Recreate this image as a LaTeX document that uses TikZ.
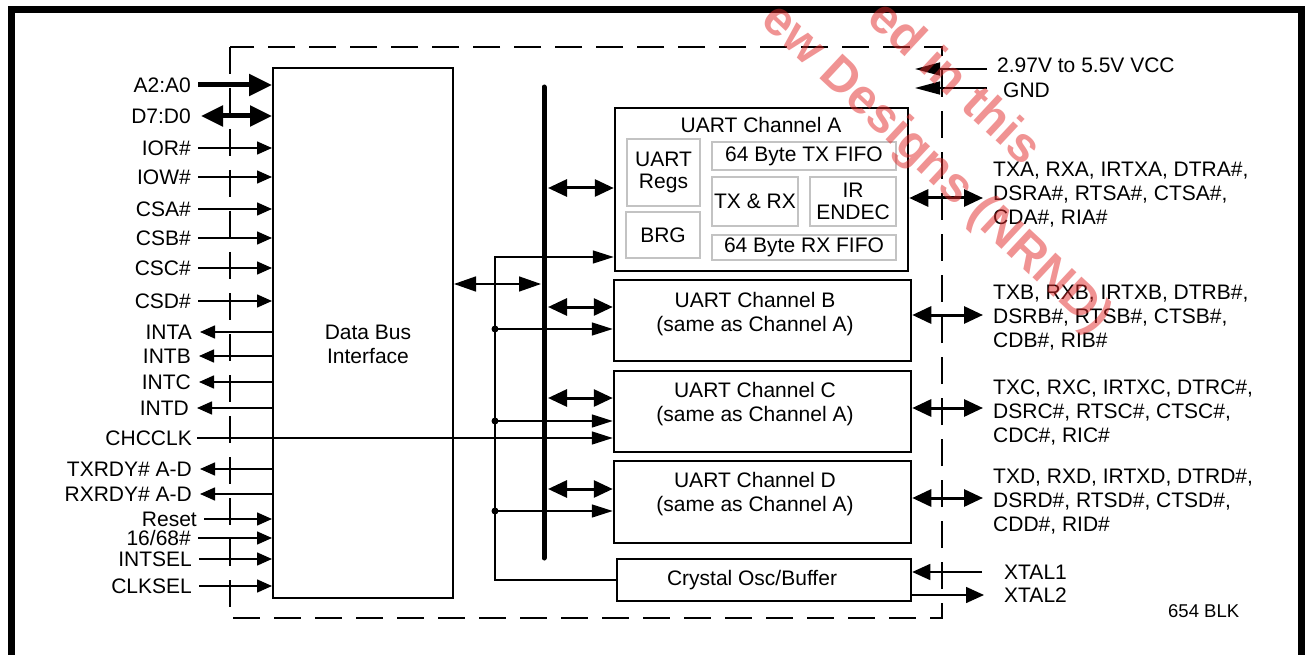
\documentclass[tikz,border=0pt]{standalone}
\usepackage{fontspec}
\setmainfont{Liberation Sans}
\usetikzlibrary{arrows.meta}
\definecolor{RegGrey}{RGB}{195, 195, 195}
\definecolor{WmRed}{RGB}{225, 40, 40}
\begin{document}
\begin{tikzpicture}[x=1pt, y=-1pt,
  lab/.style={font=\fontsize{21}{24.3}\selectfont, inner sep=0pt, text height=15pt, text depth=0pt},
  pinlab/.style={font=\fontsize{21}{24.3}\selectfont, inner sep=0pt, align=left, anchor=north west},
  boxtxt/.style={font=\fontsize{21}{24}\selectfont, align=center, inner sep=0pt},
  box/.style={draw, line width=2.5pt, inner sep=0pt},
  reg/.style={draw=RegGrey, line width=2pt, inner sep=0pt, font=\fontsize{21}{22}\selectfont, align=center},
  bound/.style={line width=2pt, dash pattern=on 27pt off 14pt},
  sigin/.style={-{Triangle[length=15pt, width=13pt]}, line width=1.5pt, shorten <=7pt},
  sigout/.style={-{Triangle[length=15pt, width=13pt]}, line width=1.5pt, shorten >=8pt},
  fatin/.style={-{Triangle[length=23pt, width=21pt]}, line width=5pt, shorten <=7pt},
  fatdbl/.style={{Triangle[length=22pt, width=20pt]}-{Triangle[length=22pt, width=20pt]}, line width=5pt, shorten <=10pt},
  busarr/.style={{Triangle[length=19pt, width=17pt]}-{Triangle[length=19pt, width=17pt]}, line width=3pt},
  dbarr/.style={{Triangle[length=22pt, width=15pt]}-{Triangle[length=22pt, width=15pt]}, line width=1.5pt},
  clk/.style={-{Triangle[length=21pt, width=13pt]}, line width=1.5pt},
  pwr/.style={-{Triangle[length=25pt, width=13pt]}, line width=1.5pt, shorten <=10pt},
  xin/.style={-{Triangle[length=18pt, width=16pt]}, line width=1.5pt, shorten <=22pt},
  xout/.style={-{Triangle[length=18pt, width=16pt]}, line width=1.5pt, shorten >=20pt},
  wm/.style={font=\fontsize{49}{60}\selectfont\bfseries, text=WmRed, text opacity=0.5, inner sep=0pt, anchor=base west, rotate=-43}]
\useasboundingbox (0,0) rectangle (1307,655);
\clip (0,0) rectangle (1307,655);
\draw[line width=7pt] (11,700) -- (11,10) -- (1301,10) -- (1301,700);
\draw[bound] (230,47) rectangle (942,618);
\node[box, line width=2pt, minimum width=180pt, minimum height=530pt, label={[boxtxt, xshift=5pt, yshift=-11pt]center:Data Bus\\Interface}] (dbi) at (363,333) {};
\node[box, minimum width=293pt, minimum height=163pt] (chA) at (761.5,189.5) {};
\node[boxtxt] (chAt) at (761,125) {UART Channel A};
\node[reg, minimum width=73pt, minimum height=67pt] (regs) at (663.5,172.5) {UART\\Regs};
\node[reg, minimum width=74pt, minimum height=46pt] (brg) at (663,235) {BRG};
\node[reg, minimum width=184pt, minimum height=28pt] (txf) at (804,156) {64 Byte TX FIFO};
\node[reg, minimum width=86pt, minimum height=49pt] (txrx) at (755,201.5) {TX \& RX};
\node[reg, minimum width=86pt, minimum height=49pt] (ir) at (853,201.5) {IR\\ENDEC};
\node[reg, minimum width=184pt, minimum height=25pt] (rxf) at (804,247.5) {64 Byte RX FIFO};
\node[box, minimum width=297pt, minimum height=81pt, label={[boxtxt, xshift=-7.5pt, yshift=6.5pt]center:UART Channel B\\(same as Channel A)}] (chB) at (762.5,320.5) {};
\node[box, minimum width=297pt, minimum height=81pt, label={[boxtxt, xshift=-7.5pt, yshift=7.5pt]center:UART Channel C\\(same as Channel A)}] (chC) at (762.5,411.5) {};
\node[box, minimum width=297pt, minimum height=82pt, label={[boxtxt, xshift=-7.5pt, yshift=7.5pt]center:UART Channel D\\(same as Channel A)}] (chD) at (762.5,502) {};
\node[box, minimum width=294pt, minimum height=42pt, label={[boxtxt, xshift=-12pt]center:Crystal Osc/Buffer}] (xtal) at (764,580) {};
\node[lab, anchor=east] (a20) at (191,85) {A2:A0};
\node[lab, anchor=east] (d70) at (191,116) {D7:D0};
\node[lab, anchor=east] (ior) at (191,148) {IOR\#};
\node[lab, anchor=east] (iow) at (191,177) {IOW\#};
\node[lab, anchor=east] (csa) at (191,209) {CSA\#};
\node[lab, anchor=east] (csb) at (191,238) {CSB\#};
\node[lab, anchor=east] (csc) at (191,268) {CSC\#};
\node[lab, anchor=east] (csd) at (191,301) {CSD\#};
\node[lab, anchor=east] (inta) at (192,332) {INTA};
\node[lab, anchor=east] (intb) at (191,356) {INTB};
\node[lab, anchor=east] (intc) at (191,382) {INTC};
\node[lab, anchor=east] (intd) at (189,408) {INTD};
\node[lab, anchor=east] (chcclk) at (192,438) {CHCCLK};
\node[lab, anchor=east] (txrdy) at (192,469) {TXRDY\# A-D};
\node[lab, anchor=east] (rxrdy) at (192,494) {RXRDY\# A-D};
\node[lab, anchor=east] (reset) at (197,519) {Reset};
\node[lab, anchor=east] (m68) at (191,538) {16/68\#};
\node[lab, anchor=east] (intsel) at (192,559) {INTSEL};
\node[lab, anchor=east] (clksel) at (192,586) {CLKSEL};
\node[lab, anchor=west] (vcc) at (997,65) {2.97V to 5.5V VCC};
\node[lab, anchor=west] (gnd) at (1003,90) {GND};
\node[pinlab] (pinA) at (993,161.5) {TXA, RXA, IRTXA, DTRA\#,\\DSRA\#, RTSA\#, CTSA\#,\\CDA\#, RIA\#};
\node[pinlab] (pinB) at (993,284.5) {TXB, RXB, IRTXB, DTRB\#,\\DSRB\#, RTSB\#, CTSB\#,\\CDB\#, RIB\#};
\node[pinlab] (pinC) at (993,379.5) {TXC, RXC, IRTXC, DTRC\#,\\DSRC\#, RTSC\#, CTSC\#,\\CDC\#, RIC\#};
\node[pinlab] (pinD) at (993,468.5) {TXD, RXD, IRTXD, DTRD\#,\\DSRD\#, RTSD\#, CTSD\#,\\CDD\#, RID\#};
\node[lab, anchor=west] (xt1) at (1004,572) {XTAL1};
\node[lab, anchor=west] (xt2) at (1004,595) {XTAL2};
\node[anchor=west, inner sep=0pt, font=\fontsize{18.5}{20}\selectfont, text height=13pt, text depth=0pt] (blk) at (1168,611) {654 BLK};
\coordinate (busT) at (544,87); \coordinate (busB) at (544,558);
\coordinate (bDB) at (541,284);
\coordinate (bA) at (548,188); \coordinate (bB) at (548,307); \coordinate (bC) at (548,398); \coordinate (bD) at (548,489);
\coordinate (clkT) at (495,257); \coordinate (jB) at (495,329); \coordinate (jC) at (495,421); \coordinate (jD) at (495,511);
\coordinate (pA) at (983,198); \coordinate (pB) at (983,315); \coordinate (pC) at (983,408); \coordinate (pD) at (983,498);
\coordinate (vccT) at (915,69); \coordinate (gndT) at (915,88);
\draw[fatin] (a20.east) -- (a20.east -| dbi.west); \draw[fatdbl] (d70.east) -- (d70.east -| dbi.west);
\draw[sigin] (ior.east) -- (ior.east -| dbi.west); \draw[sigin] (iow.east) -- (iow.east -| dbi.west);
\draw[sigin] (csa.east) -- (csa.east -| dbi.west); \draw[sigin] (csb.east) -- (csb.east -| dbi.west);
\draw[sigin] (csc.east) -- (csc.east -| dbi.west); \draw[sigin] (csd.east) -- (csd.east -| dbi.west);
\draw[sigout] (dbi.west |- inta.east) -- (inta.east); \draw[sigout] (dbi.west |- intb.east) -- (intb.east);
\draw[sigout] (dbi.west |- intc.east) -- (intc.east); \draw[sigout] (dbi.west |- intd.east) -- (intd.east);
\draw[clk, shorten <=5pt] (chcclk.east) -- (chcclk.east -| chC.west);
\draw[sigout] (dbi.west |- txrdy.east) -- (txrdy.east); \draw[sigout] (dbi.west |- rxrdy.east) -- (rxrdy.east);
\draw[sigin] (reset.east) -- (reset.east -| dbi.west); \draw[sigin] (m68.east) -- (m68.east -| dbi.west);
\draw[sigin] (intsel.east) -- (intsel.east -| dbi.west); \draw[sigin] (clksel.east) -- (clksel.east -| dbi.west);
\draw[clk] (xtal.west) -| (clkT) -- (clkT -| chA.west);
\draw[clk] (jB) -- (jB -| chB.west); \draw[clk] (jC) -- (jC -| chC.west); \draw[clk] (jD) -- (jD -| chD.west);
\fill (jB) circle (3.5pt); \fill (jC) circle (3.5pt); \fill (jD) circle (3.5pt);
\draw[dbarr] (dbi.east |- bDB) -- (bDB);
\draw[line width=5pt, line cap=round] (busT) -- (busB);
\draw[busarr] (bA) -- (bA -| chA.west); \draw[busarr] (bB) -- (bB -| chB.west);
\draw[busarr] (bC) -- (bC -| chC.west); \draw[busarr] (bD) -- (bD -| chD.west);
\draw[busarr] (pA -| chA.east) -- (pA); \draw[busarr] (pB -| chB.east) -- (pB);
\draw[busarr] (pC -| chC.east) -- (pC); \draw[busarr] (pD -| chD.east) -- (pD);
\draw[pwr] (vccT -| vcc.west) -- (vccT); \draw[pwr] (gndT -| vcc.west) -- (gndT);
\draw[xin] (xt1.west) -- (xt1.west -| xtal.east); \draw[xout] (xtal.east |- xt2.west) -- (xt2.west);
\node[wm] (wm1) at (865.5,20) {ed in this};
\node[wm] (wm2) at (759.5,22.7) {ew Designs (NRND)};
\end{tikzpicture}
\end{document}
